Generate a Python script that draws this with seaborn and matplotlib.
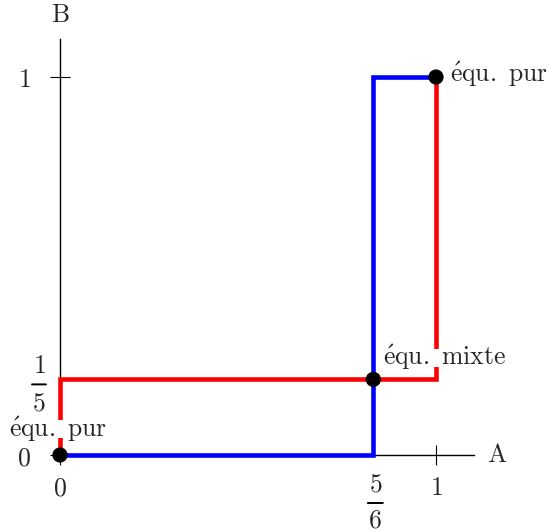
import matplotlib
matplotlib.use("Agg")
import matplotlib.pyplot as plt
import matplotlib.transforms as mtransforms
import pandas as pd
import seaborn as sns

# Best-response paths of the two players
resp_a_x = [0, 5/6, 5/6, 1]
resp_a_y = [0, 0, 1, 1]
resp_b_x = [0, 0, 1, 1]
resp_b_y = [0, 1/5, 1/5, 1]

# Equilibria
eq_x = [0, 5/6, 1]
eq_y = [0, 1/5, 1]
eq_labels = [r"$\mathrm{\acute{e}qu.\ pur}$",
             r"$\mathrm{\acute{e}qu.\ mixte}$",
             r"$\mathrm{\acute{e}qu.\ pur}$"]

# Ticks
x_ticks = [0, 1]
x_ticklabels = [r"$0$", r"$1$"]
y_ticks = [0, 1]
y_ticklabels = [r"$0$", r"$1$"]
# Fraction labels at the mixed-equilibrium coordinates: (value, numerator, denominator)
x_frac = (5/6, "5", "6")
y_frac = (1/5, "1", "5")

sns.set_theme(style="white")
plt.rcParams["mathtext.fontset"] = "cm"
plt.rcParams["font.family"] = ["DejaVu Serif"]

FS = 18.5
fig = plt.figure(figsize=(5.48, 5.32), dpi=100)
ax = fig.add_axes([0, 0, 1, 1])
ax.set_xlim(-60 / 376, 488 / 376)
ax.set_ylim(-77 / 378, 455 / 378)
ax.patch.set_visible(False)

df_a = pd.DataFrame({"x": resp_a_x, "y": resp_a_y})
df_b = pd.DataFrame({"x": resp_b_x, "y": resp_b_y})
sns.lineplot(data=df_a, x="x", y="y", sort=False, estimator=None, color="#0000ff",
             lw=3.3, ax=ax, solid_joinstyle="miter", zorder=3)
sns.lineplot(data=df_b, x="x", y="y", sort=False, estimator=None, color="#ff0000",
             lw=3.3, ax=ax, solid_joinstyle="miter", zorder=3)
sns.scatterplot(x=eq_x, y=eq_y, color="black", s=120, edgecolor="none", ax=ax, zorder=5)

# Axes through the origin
for side in ("top", "right"):
    ax.spines[side].set_visible(False)
for side in ("left", "bottom"):
    ax.spines[side].set_position(("data", 0))
    ax.spines[side].set_bounds(0, 1.1)
    ax.spines[side].set_color("black")
    ax.spines[side].set_linewidth(1.0)
    ax.spines[side].set_zorder(2)
ax.set_xlabel("")
ax.set_ylabel("")

ax.set_xticks(x_ticks)
ax.set_xticklabels(x_ticklabels)
ax.set_yticks(y_ticks)
ax.set_yticklabels(y_ticklabels)
ax.tick_params(which="major", bottom=True, left=True, top=False, right=False,
               direction="inout", length=14.4, width=0.8, color="black", labelsize=FS)
ax.tick_params(axis="x", pad=7.5)
ax.tick_params(axis="y", pad=14)


def offset(px, py):
    return mtransforms.ScaledTranslation(px / 100, py / 100, fig.dpi_scale_trans)


def fraction(x, y, num, den, dx, num_dy, bar_dy, den_dy, bar_w=15):
    """Stacked fraction: numerator, bar and denominator placed around a data point."""
    ax.annotate(f"${num}$", (x, y), xytext=(dx, num_dy), textcoords="offset pixels",
                ha="center", va="baseline", fontsize=FS, annotation_clip=False)
    ax.annotate(f"${den}$", (x, y), xytext=(dx, den_dy), textcoords="offset pixels",
                ha="center", va="baseline", fontsize=FS, annotation_clip=False)
    ax.annotate("", (x, y), xycoords=ax.transData + offset(dx - bar_w / 2, bar_dy),
                xytext=(bar_w, 0), textcoords="offset pixels", annotation_clip=False,
                arrowprops=dict(arrowstyle="-", lw=1.4, color="black",
                                shrinkA=0, shrinkB=0))


fraction(x_frac[0], 0, x_frac[1], x_frac[2], dx=2, num_dy=-36, bar_dy=-48, den_dy=-72)
fraction(0, y_frac[0], y_frac[1], y_frac[2], dx=-21, num_dy=6, bar_dy=-5, den_dy=-31, bar_w=14)

ax.text(1.1, 0, r"$\mathrm{A}$", fontsize=FS, ha="left", va="center",
        ).set_transform(ax.transData + offset(13, 0))
ax.text(0, 1.1, r"$\mathrm{B}$", fontsize=FS, ha="center", va="bottom",
        ).set_transform(ax.transData + offset(0, 12))

# Equilibrium labels
white = dict(facecolor="white", edgecolor="none", pad=-4)
ax.annotate(eq_labels[0], (eq_x[0], eq_y[0]), xytext=(-2, 18), textcoords="offset pixels",
            ha="center", va="baseline", fontsize=FS, bbox=white, zorder=4)
ax.annotate(eq_labels[1], (eq_x[1], eq_y[1]), xytext=(10, 14), textcoords="offset pixels",
            ha="left", va="baseline", fontsize=FS, bbox=white, zorder=4)
ax.annotate(eq_labels[2], (eq_x[2], eq_y[2]), xytext=(14, -5), textcoords="offset pixels",
            ha="left", va="baseline", fontsize=FS, zorder=4)

fig.savefig("out.png", dpi=100)
